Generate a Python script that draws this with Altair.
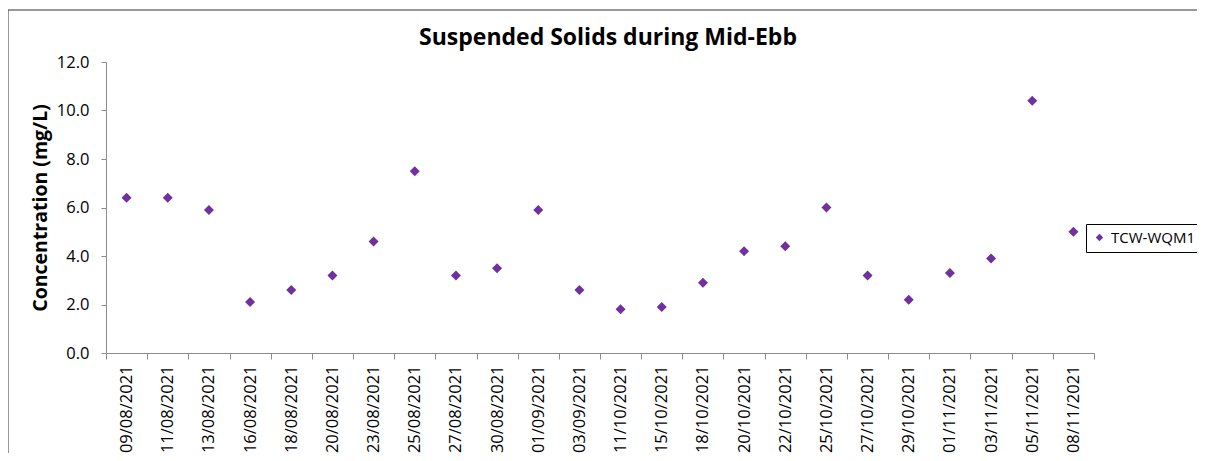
import altair as alt
import pandas as pd

dates = ["09/08/2021", "11/08/2021", "13/08/2021", "16/08/2021", "18/08/2021",
         "20/08/2021", "23/08/2021", "25/08/2021", "27/08/2021", "30/08/2021",
         "01/09/2021", "03/09/2021", "11/10/2021", "15/10/2021", "18/10/2021",
         "20/10/2021", "22/10/2021", "25/10/2021", "27/10/2021", "29/10/2021",
         "01/11/2021", "03/11/2021", "05/11/2021", "08/11/2021"]
values = [6.4, 6.4, 5.9, 2.1, 2.6, 3.2, 4.6, 7.5, 3.2, 3.5,
          5.9, 2.6, 1.8, 1.9, 2.9, 4.2, 4.4, 6.0, 3.2, 2.2,
          3.3, 3.9, 10.4, 5.0]
series = "TCW-WQM1"
y_ticks = [0, 2, 4, 6, 8, 10, 12]
title_text = "Suspended Solids during Mid-Ebb"

df = pd.DataFrame({"date": dates, "value": values, "series": [series] * len(dates)})

FONT = "Open Sans"
AXIS_GRAY = "#8c8c8c"

points = alt.Chart(df).mark_point(
    shape="diamond", filled=True, size=100, opacity=1
).encode(
    x=alt.X("date:N", sort=dates, title=None,
            scale=alt.Scale(paddingInner=0, paddingOuter=0),
            axis=alt.Axis(labelAngle=270, labelFontSize=16.5, labelFont=FONT,
                          labelColor="#000000", labelPadding=6, tickSize=6,
                          tickBand="extent", tickColor=AXIS_GRAY,
                          domainColor=AXIS_GRAY, grid=False)),
    y=alt.Y("value:Q", title="Concentration (mg/L)",
            scale=alt.Scale(domain=[0, 12], nice=False),
            axis=alt.Axis(values=y_ticks, format=".1f", labelFontSize=16.5,
                          labelFont=FONT, labelColor="#000000", labelPadding=12,
                          tickSize=5, tickColor=AXIS_GRAY, domainColor=AXIS_GRAY,
                          grid=False, titleFont=FONT, titleFontSize=19.5,
                          titleFontWeight="bold", titleColor="#000000",
                          titleAngle=270, titleX=-66, titleY=145.5,
                          titleAlign="center", titleBaseline="middle")),
    color=alt.Color("series:N", scale=alt.Scale(domain=[series], range=["#7030A0"]),
                    legend=alt.Legend(title=None, orient="none", legendX=980,
                                      legendY=162, strokeColor="#000000",
                                      fillColor="#ffffff", padding=6,
                                      symbolType="diamond", symbolSize=55,
                                      labelFontSize=15, labelFont=FONT,
                                      labelColor="#000000", labelOffset=4)),
)

frame_df = pd.DataFrame({"k": [0]})
frame_top = alt.Chart(frame_df).mark_rule(color="#333333", strokeWidth=1).encode(
    x=alt.value(-98), x2=alt.value(1300), y=alt.value(-52)
)
frame_left = alt.Chart(frame_df).mark_rule(color="#333333", strokeWidth=1).encode(
    x=alt.value(-98), y=alt.value(-52), y2=alt.value(600)
)

title = alt.Chart(pd.DataFrame({"t": [title_text]})).mark_text(
    font=FONT, fontSize=23, fontWeight="bold", color="#000000",
    align="center", baseline="alphabetic"
).encode(
    text="t:N", x=alt.value(502), y=alt.value(-17)
)

chart = alt.layer(frame_top, frame_left, points, title).properties(
    width=988, height=291,
    autosize=alt.AutoSizeParams(type="none"),
    padding={"left": 98, "top": 54, "right": 103, "bottom": 100},
).configure_view(stroke=None)

chart.save("out.html", embed_options={"renderer": "svg", "actions": False})
